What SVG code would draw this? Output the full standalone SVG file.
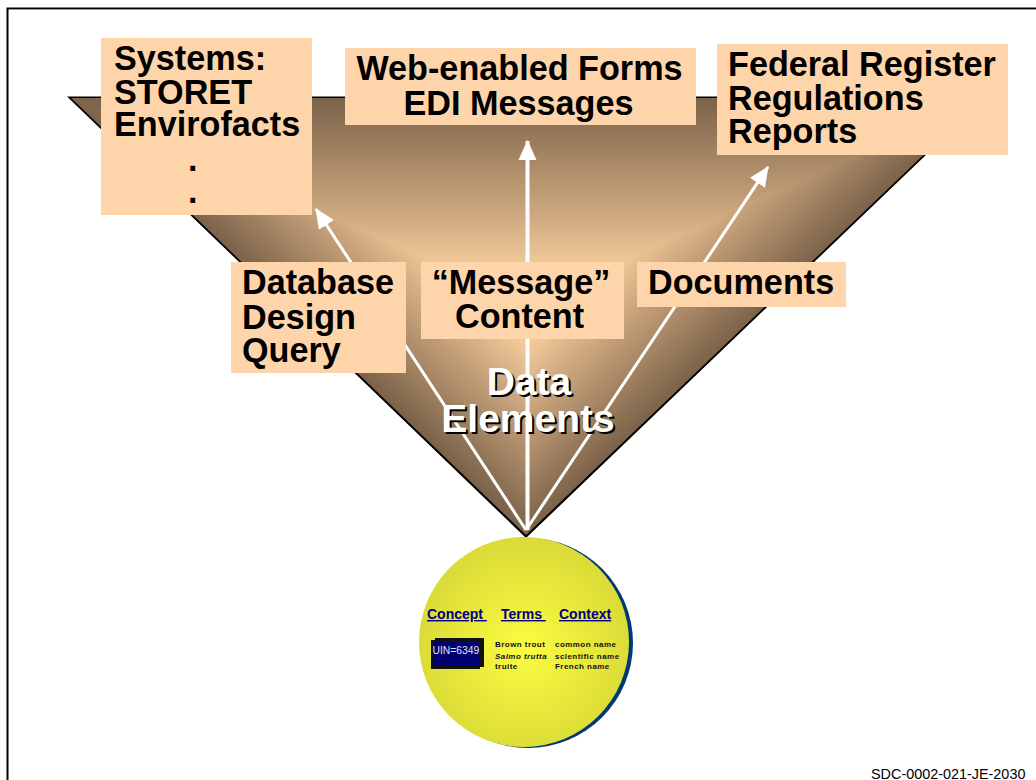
<svg xmlns="http://www.w3.org/2000/svg" width="1036" height="780" viewBox="0 0 1036 780">
<style>
.b{font-family:"Liberation Sans",Arial,sans-serif;font-weight:bold;font-size:34.200px;fill:#000}
.box{fill:#fed5aa}
.w{font-family:"Liberation Sans",Arial,sans-serif;font-weight:bold;font-size:39px;text-anchor:middle}
.h{font-family:"Liberation Sans",Arial,sans-serif;font-weight:bold;font-size:14px;fill:#000080;text-decoration:underline}
.s{font-family:"Liberation Sans",Arial,sans-serif;font-weight:bold;font-size:8px;fill:#111;letter-spacing:.45px}
.ar{stroke:#fff;fill:none}
</style>
<defs>
<linearGradient id="gt" gradientUnits="userSpaceOnUse" x1="527" y1="97" x2="527" y2="305">
<stop offset="0" stop-color="#7a6149"/><stop offset=".5" stop-color="#c4a078"/><stop offset=".8" stop-color="#f0c898"/><stop offset="1" stop-color="#fed5aa"/>
</linearGradient>
<linearGradient id="gr" gradientUnits="userSpaceOnUse" x1="642.400" y1="425.700" x2="527" y2="305">
<stop offset="0" stop-color="#7a6149"/><stop offset=".5" stop-color="#c4a078"/><stop offset=".8" stop-color="#f0c898"/><stop offset="1" stop-color="#fed5aa"/>
</linearGradient>
<linearGradient id="gl" gradientUnits="userSpaceOnUse" x1="411.600" y1="425.700" x2="527" y2="305">
<stop offset="0" stop-color="#7a6149"/><stop offset=".5" stop-color="#c4a078"/><stop offset=".8" stop-color="#f0c898"/><stop offset="1" stop-color="#fed5aa"/>
</linearGradient>
<clipPath id="tc"><path d="M71 98H983L526 535z"/></clipPath>
<radialGradient id="ball" gradientUnits="userSpaceOnUse" cx="525" cy="648" r="104">
<stop offset="0" stop-color="#fcfc42"/><stop offset="1" stop-color="#dcdc38"/>
</radialGradient>
<marker id="a" markerUnits="userSpaceOnUse" markerWidth="22" markerHeight="22" refX="19" refY="10" orient="auto" viewBox="0 0 22 20"><path d="M0 1L20 10L0 19z" fill="#fff"/></marker>
</defs>
<path d="M7.500 780V8.500H1036" fill="none" stroke="#000" stroke-width="2"/>
<path d="M9 9.500H1036" fill="none" stroke="#999" stroke-width="1"/>
<g id="funnel">
<path d="M67 96.500H987L526 538z" fill="#000"/>
<g clip-path="url(#tc)">
<path d="M68 96H986L527 307z" fill="url(#gt)"/>
<path d="M986 95L527 303V545H986z" fill="url(#gr)"/>
<path d="M68 95L528 303V545H68z" fill="url(#gl)"/>
</g>
</g>
<g id="connectors">
<path class="ar" stroke-width="3" marker-end="url(#a)" d="M526 530L316 209"/>
<path class="ar" stroke-width="4" marker-end="url(#a)" d="M527.500 530V141"/>
<path class="ar" stroke-width="3" marker-end="url(#a)" d="M526 530L768 167"/>
</g>
<g id="systems"><rect class="box" x="101" y="38" width="211" height="177"/>
<text class="b" x="114" y="70">Systems:</text><text class="b" x="114" y="104">STORET</text><text class="b" x="114" y="136">Envirofacts</text><text class="b" x="188" y="171">.</text><text class="b" x="188" y="203">.</text></g>
<g id="forms"><rect class="box" x="345" y="48" width="351" height="77"/>
<text class="b" x="519.500" y="80" text-anchor="middle">Web-enabled Forms</text><text class="b" x="518.500" y="115" text-anchor="middle">EDI Messages</text></g>
<g id="register"><rect class="box" x="717" y="44" width="291" height="111"/>
<text class="b" x="728" y="76">Federal Register</text><text class="b" x="728" y="110">Regulations</text><text class="b" x="728" y="143">Reports</text></g>
<g id="database"><rect class="box" x="231" y="262" width="175" height="111"/>
<text class="b" x="242" y="294">Database</text><text class="b" x="242" y="329">Design</text><text class="b" x="242" y="362">Query</text></g>
<g id="message"><rect class="box" x="421" y="262" width="203" height="77"/>
<text class="b" x="521" y="294" text-anchor="middle">“Message”</text><text class="b" x="519.500" y="328" text-anchor="middle">Content</text></g>
<g id="documents"><rect class="box" x="637" y="262" width="209" height="45"/>
<text class="b" x="648" y="294">Documents</text></g>
<g id="data-elements">
<text class="w" x="531" y="397" fill="#000">Data</text><text class="w" x="530" y="434" fill="#000">Elements</text>
<text class="w" x="529" y="395" fill="#fff">Data</text><text class="w" x="528" y="432" fill="#fff">Elements</text>
</g>
<g id="concept-circle">
<circle cx="528" cy="643" r="105" fill="#003a70"/>
<circle cx="524" cy="642" r="105" fill="url(#ball)"/>
<text class="h" x="427" y="619" xml:space="preserve">Concept </text>
<text class="h" x="501" y="619" xml:space="preserve">Terms </text>
<text class="h" x="559" y="619">Context</text>
<path d="M431 640H435V638H484V667H480V669H431z" fill="#111"/>
<rect x="433" y="642" width="46" height="24" fill="#000070"/>
<text x="432.500" y="654" font-family="'Liberation Sans',Arial,sans-serif" font-size="10.300" fill="#e4e4f4">UIN=6349</text>
<text class="s" x="495" y="647">Brown trout</text><text class="s" x="495" y="659" font-style="italic">Salmo trutta</text><text class="s" x="495" y="669">truite</text>
<text class="s" x="555" y="647">common name</text><text class="s" x="555" y="659">scientific name</text><text class="s" x="555" y="669">French name</text>
</g>
<text id="ref" x="871" y="779" font-family="'Liberation Sans',Arial,sans-serif" font-size="14.400" fill="#000">SDC-0002-021-JE-2030</text>
</svg>
